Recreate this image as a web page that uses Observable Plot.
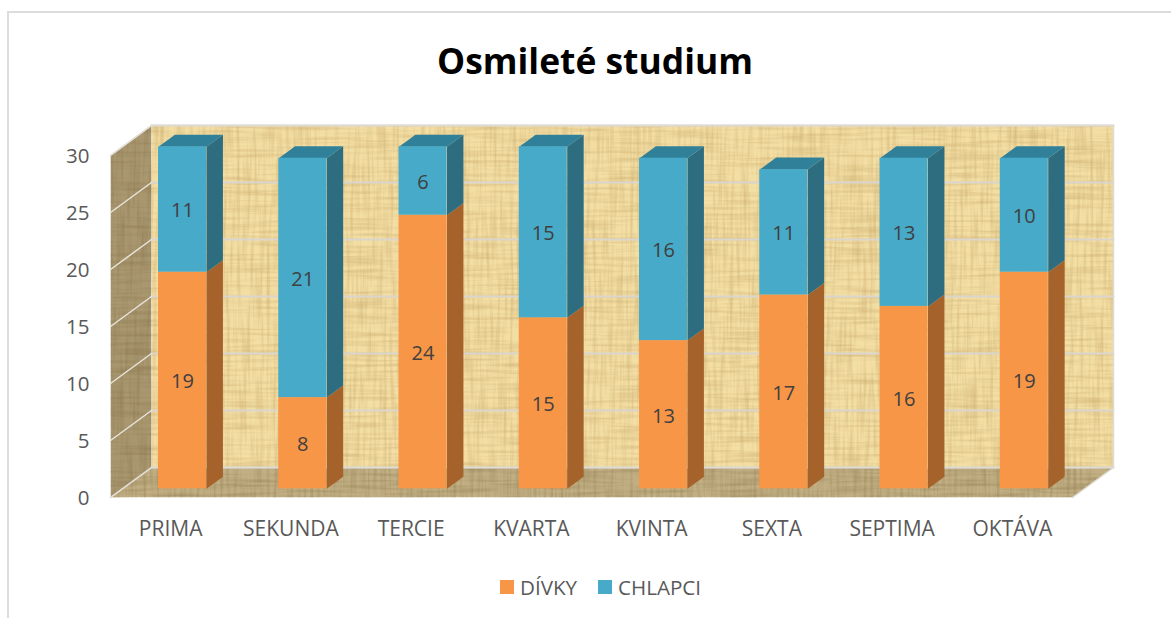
<!DOCTYPE html>
<html>
<head>
<meta charset="utf-8">
<script src="https://cdn.jsdelivr.net/npm/d3@7"></script>
<script src="https://cdn.jsdelivr.net/npm/@observablehq/plot@0.6"></script>
<style>
html,body{margin:0;padding:0;background:#fff;overflow:hidden}
#page{position:relative;width:1171px;height:618px;font-family:"Open Sans",sans-serif}
#frameT{position:absolute;left:7px;top:11px;right:0;height:2px;background:#dcdcdc}
#frameL{position:absolute;left:7px;top:11px;bottom:0;width:2px;background:#dcdcdc}
#title{position:absolute;left:0;top:0;width:1190px;height:100px;line-height:120px;text-align:center;font-size:35.4px;font-weight:700;color:#000}
#chart{position:absolute;left:0;top:100px}
#legend{position:absolute;left:0;top:570px;width:1171px;height:34px;font-size:20.6px;color:#595959}
.item{position:absolute;top:0;height:34px;line-height:34px;white-space:nowrap}
.sw{position:absolute;top:10px;width:14px;height:14px}
</style>
</head>
<body>
<div id="page">
<div id="frameT"></div><div id="frameL"></div>
<div id="title">Osmileté studium</div>
<div id="chart"></div>
<div id="legend"></div>
</div>
<script>
const categories = ["PRIMA","SEKUNDA","TERCIE","KVARTA","KVINTA","SEXTA","SEPTIMA","OKTÁVA"];
const divky   = [19, 8, 24, 15, 13, 17, 16, 19];
const chlapci = [11, 21, 6, 15, 16, 11, 13, 10];
const yTicks = [0, 5, 10, 15, 20, 25, 30];
const seriesNames = ["DÍVKY", "CHLAPCI"];
const colors = {orange:"#F79646", orangeSide:"#A5622B", blue:"#46AAC8", blueSide:"#2E6C80", blueTop:"#31809A"};

// oblique projection: depth z in 0..1 moves a point right and up, in data units
const unitX = 120.25, unitY = 11.4;
const depthX = 41 / unitX, depthY = 30 / unitY;
const P = (x, v, z) => ({x: x + z * depthX, y: v + z * depthY});
const zFront = 0.29, zBack = 0.69, half = 24 / unitX;

const poly = (id, pts) => pts.map(([x, v, z]) => ({id, ...P(x, v, z)}));
const flat = (a) => a.flat();

const wall  = poly("wall",  [[0,0,1],[8,0,1],[8,30,1],[0,30,1]]);
const floor = poly("floor", [[0,0,0],[8,0,0],[8,0,1],[0,0,1]]);
const side  = poly("side",  [[0,0,0],[0,30,0],[0,30,1],[0,0,1]]);
const backGrid = flat(yTicks.map(v => poly("g"+v, [[0,v,1],[8,v,1]])));
const sideGrid = flat(yTicks.map(v => poly("s"+v, [[0,v,0],[0,v,1]])));
const edges = [...poly("e1",[[0,30,0],[0,30,1],[8,30,1]]), ...poly("e2",[[0,0,0],[0,0,1],[8,0,1]]), ...poly("e3",[[8,0,0],[8,0,1],[8,30,1]])];

const bars = categories.map((c, i) => ({c, i, cx: i + 0.5, d: divky[i], t: divky[i] + chlapci[i], h: chlapci[i]}));
const sideFace = (b, lo, hi, k) => poly(k + b.i, [
  [b.cx + half, lo, zFront], [b.cx + half, lo, zBack], [b.cx + half, hi, zBack], [b.cx + half, hi, zFront]]);
const orangeSides = flat(bars.map(b => sideFace(b, 0, b.d, "o")));
const blueSides = flat(bars.map(b => sideFace(b, b.d, b.t, "b")));
const blueTops = flat(bars.map(b => poly("t" + b.i, [
  [b.cx - half, b.t, zFront], [b.cx + half, b.t, zFront], [b.cx + half, b.t, zBack], [b.cx - half, b.t, zBack]])));
const fx = (b, s) => P(b.cx + s * half, 0, zFront).x;
const fy = (v) => P(0, v, zFront).y;

const polygon = (data, fill, className) => Plot.line(data, {x:"x", y:"y", z:"id", fill, stroke:"none", curve:"linear-closed", className});
const stroke = (data, color, w) => Plot.line(data, {x:"x", y:"y", z:"id", stroke:color, strokeWidth:w});

const plot = Plot.plot({
  width: 1171, height: 470,
  marginLeft: 89, marginRight: 38.875, marginTop: 20.8, marginBottom: 73,
  x: {domain: [-21 / unitX, 8.5], label: null},
  y: {domain: [0, 33], label: null},
  style: {background: "none", fontFamily: '"Open Sans",sans-serif', overflow: "visible"},
  marks: [
    polygon(wall, "#F3DEA4", "wall"),
    polygon(floor, "#C2B084", "floor"),
    polygon(side, "#A99770", "sidewall"),
    stroke(backGrid, "#DAD6CE", 2),
    stroke(sideGrid, "#E8E4DA", 1.5),
    stroke(edges, "#DEDBD3", 1.5),
    polygon(orangeSides, colors.orangeSide),
    polygon(blueSides, colors.blueSide),
    polygon(blueTops, colors.blueTop),
    Plot.rect(bars, {x1: b => fx(b,-1), x2: b => fx(b,1), y1: b => fy(0), y2: b => fy(b.d), fill: colors.orange}),
    Plot.rect(bars, {x1: b => fx(b,-1), x2: b => fx(b,1), y1: b => fy(b.d), y2: b => fy(b.t), fill: colors.blue}),
    Plot.text(bars, {x: b => fx(b,0), y: b => fy(b.d / 2), text: b => String(b.d), fill:"#404040", fontSize:20, dy:1.5}),
    Plot.text(bars, {x: b => fx(b,0), y: b => fy(b.d + b.h / 2), text: b => String(b.h), fill:"#404040", fontSize:20, dy:1.5}),
    Plot.axisY({ticks: yTicks, tickSize: 0, tickPadding: 0, label: null, fontSize: 20.5, fill:"#595959", dy: 1}),
    Plot.axisX({ticks: categories.map((c,i) => i + 0.5), tickFormat: v => categories[Math.floor(v)], tickSize: 0, tickPadding: 24, label: null, fontSize: 21, fill:"#595959"})
  ]
});

// papyrus texture, applied by filter to the three chart walls
const ns = "http://www.w3.org/2000/svg";
const defs = document.createElementNS(ns, "defs");
const tex = (id, alpha, r, g, b) => `<filter id="${id}" x="0" y="0" width="1" height="1" color-interpolation-filters="sRGB">
  <feTurbulence type="fractalNoise" baseFrequency="0.018 0.3" numOctaves="2" seed="4"/>
  <feColorMatrix values="0 0 0 0 ${r}  0 0 0 0 ${g}  0 0 0 0 ${b}  ${alpha*2.4} 0 0 0 ${-alpha*1.0}" result="h"/>
  <feTurbulence type="fractalNoise" baseFrequency="0.3 0.018" numOctaves="2" seed="9"/>
  <feColorMatrix values="0 0 0 0 ${r}  0 0 0 0 ${g}  0 0 0 0 ${b}  ${alpha*2.4} 0 0 0 ${-alpha*1.0}" result="v"/>
  <feMerge result="m"><feMergeNode in="SourceGraphic"/><feMergeNode in="h"/><feMergeNode in="v"/></feMerge>
  <feGaussianBlur in="m" stdDeviation="0.6" result="s"/>
  <feComposite in="s" in2="SourceAlpha" operator="in"/>
</filter>`;
defs.innerHTML = tex("papyrus", 0.3, 0.72, 0.58, 0.32) + tex("papyrusDark", 0.32, 0.5, 0.42, 0.25);
plot.prepend(defs);
plot.querySelector(".wall")?.setAttribute("filter", "url(#papyrus)");
plot.querySelector(".floor")?.setAttribute("filter", "url(#papyrusDark)");
plot.querySelector(".sidewall")?.setAttribute("filter", "url(#papyrusDark)");
document.getElementById("chart").append(plot);

const legend = document.getElementById("legend");
[[seriesNames[0], colors.orange, 500, 520], [seriesNames[1], colors.blue, 598, 618]].forEach(([n, c, sx, tx]) => {
  const s = document.createElement("div"); s.className = "sw"; s.style.left = sx + "px"; s.style.background = c; legend.append(s);
  const t = document.createElement("div"); t.className = "item"; t.style.left = tx + "px"; t.textContent = n; legend.append(t);
});
</script>
</body>
</html>
